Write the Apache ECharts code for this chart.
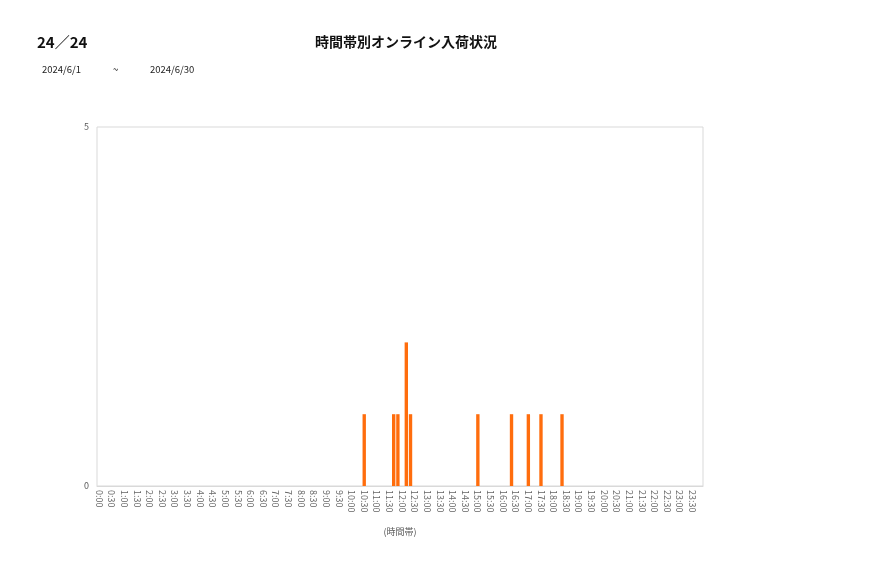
<!DOCTYPE html>
<html>
<head>
<meta charset="utf-8">
<script src="https://cdn.jsdelivr.net/npm/echarts@6/dist/echarts.min.js"></script>
<style>
  html, body { margin: 0; padding: 0; background: #fff; }
  #display { width: 877px; height: 578px; }
</style>
</head>
<body>
<div id="display"></div>
<script>
// 入荷のあった時間帯（10分刻み）と件数
var arrivalTimes = ['10:30', '11:40', '11:50', '12:10', '12:20', '15:00', '16:20', '17:00', '17:30', '18:20'];
var arrivalCounts = [1, 1, 1, 2, 1, 1, 1, 1, 1, 1];
var yTicks = [0, 5];

// 0:00〜23:50 の10分刻みカテゴリ
var categories = [];
for (var h = 0; h < 24; h++) {
  for (var m = 0; m < 60; m += 10) {
    categories.push(h + ':' + (m < 10 ? '0' + m : m));
  }
}
var values = categories.map(function (c) {
  var i = arrivalTimes.indexOf(c);
  return i >= 0 ? arrivalCounts[i] : 0;
});

var myDisplay = echarts.init(document.getElementById('display'));
myDisplay.setOption({
  animation: false,
  textStyle: { fontFamily: '"Noto Sans CJK JP", "Noto Sans", sans-serif' },
  graphic: [
    { type: 'text', left: 37, top: 35, style: { text: '24／24', font: 'bold 15px "Noto Sans CJK JP"', fill: '#111' } },
    { type: 'text', left: 315, top: 35, style: { text: '時間帯別オンライン入荷状況', font: 'bold 14px "Noto Sans CJK JP"', fill: '#111' } },
    { type: 'text', left: 42, top: 65, style: { text: '2024/6/1', font: '9.5px "Noto Sans CJK JP"', fill: '#222' } },
    { type: 'text', left: 113, top: 65, style: { text: '~', font: '9.5px "Noto Sans CJK JP"', fill: '#222' } },
    { type: 'text', left: 150, top: 65, style: { text: '2024/6/30', font: '9.5px "Noto Sans CJK JP"', fill: '#222' } }
  ],
  grid: {
    left: 97, right: 174, top: 127, bottom: 92,
    show: true, borderColor: '#d9d9d9', borderWidth: 1, backgroundColor: '#fff'
  },
  xAxis: {
    type: 'category',
    data: categories,
    name: '(時間帯)',
    nameLocation: 'middle',
    nameGap: 41,
    nameTextStyle: { fontSize: 9, color: '#595959' },
    axisLine: { lineStyle: { color: '#d9d9d9' } },
    axisTick: { show: false },
    axisLabel: {
      interval: 2,
      rotate: -90,
      fontSize: 9,
      color: '#666',
      margin: 4
    }
  },
  yAxis: {
    type: 'value',
    min: yTicks[0],
    max: yTicks[1],
    interval: 5,
    splitLine: { show: false },
    axisLine: { show: false },
    axisTick: { show: false },
    axisLabel: { fontSize: 9, color: '#595959', margin: 8 }
  },
  series: [{
    type: 'bar',
    data: values,
    barWidth: '80%',
    itemStyle: { color: '#ff6d0d' }
  }]
});
</script>
</body>
</html>
